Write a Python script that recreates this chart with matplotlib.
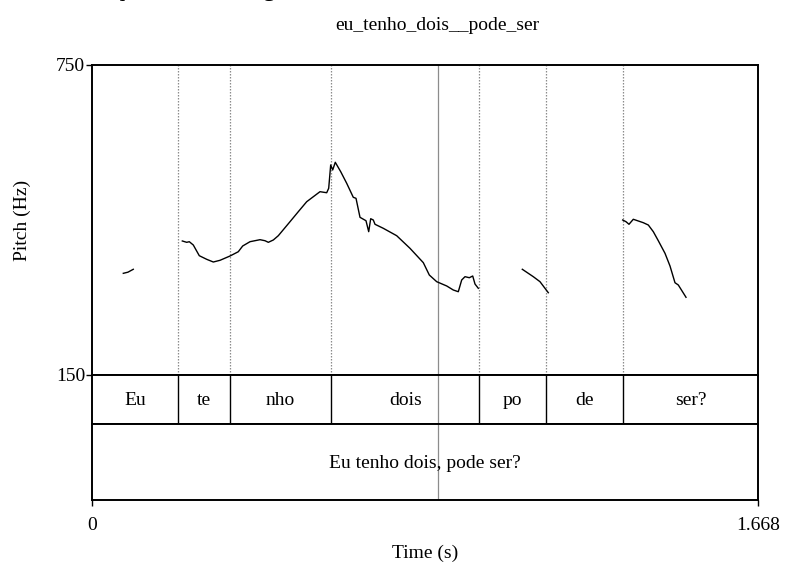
"""
Praat-style pitch contour with two annotation tiers (syllables + sentence).
"""
import numpy as np
import matplotlib
matplotlib.use("Agg")
import matplotlib.pyplot as plt

plt.rcParams["font.family"] = ["Liberation Serif", "DejaVu Serif"]

# ---------------- data ----------------
T_END = 1.668
F0_MIN, F0_MAX = 150, 750
CURSOR_T = 0.8666

syl_bounds = [0.2154, 0.3456, 0.5986, 0.9692, 1.1370, 1.3300]
syl_labels = ["Eu", "te", "nho", "dois", "po", "de", "ser?"]
syl_label_t = [0.1077, 0.2805, 0.4721, 0.7855, 1.0531, 1.2335, 1.4990]
sentence = "Eu tenho dois, pode ser?"
title = "eu_tenho_dois__pode_ser"

seg1_t = [0.0784, 0.0900, 0.1034]
seg1_f = [346.8, 349.0, 354.6]

seg2_t = [0.2262, 0.2372, 0.2437, 0.2537, 0.2687, 0.2873, 0.3038, 0.3206, 0.3456,
          0.3664, 0.3774, 0.3957, 0.4208, 0.4333, 0.4416, 0.4541, 0.4666, 0.4959,
          0.5167, 0.5377, 0.5710, 0.5878, 0.5928, 0.5978, 0.6028, 0.6093, 0.6229,
          0.6379, 0.6544, 0.6612, 0.6712, 0.6862, 0.6930, 0.6980, 0.7045, 0.7088,
          0.7296, 0.7631, 0.7964, 0.8298, 0.8448, 0.8633, 0.8884, 0.9049, 0.9174,
          0.9259, 0.9342, 0.9450, 0.9535, 0.9592, 0.9675]
seg2_f = [409.4, 406.8, 408.0, 401.6, 380.9, 373.9, 368.7, 372.0, 380.3,
          388.6, 399.7, 408.0, 411.9, 409.9, 406.8, 411.3, 419.6, 446.7,
          466.1, 485.4, 504.8, 502.8, 511.4, 556.5, 546.8, 561.7, 543.5,
          521.0, 493.9, 492.0, 455.2, 448.6, 427.4, 452.5, 450.0, 441.7,
          433.9, 419.6, 395.2, 367.4, 343.5, 330.6, 322.3, 314.5, 311.2,
          333.9, 340.3, 338.3, 341.6, 326.1, 317.8]

seg3_t = [1.0777, 1.1052, 1.1220, 1.1428]
seg3_f = [354.6, 340.3, 330.6, 309.3]

seg4_t = [1.3291, 1.3374, 1.3449, 1.3557, 1.3807, 1.3933, 1.4058, 1.4183,
          1.4351, 1.4476, 1.4601, 1.4684, 1.4877]
seg4_f = [450.0, 446.7, 441.7, 451.4, 444.8, 440.3, 427.4, 409.9,
          385.5, 361.0, 328.6, 324.2, 300.4]

# ---------------- layout (pixel based) ----------------
W, H = 811, 581
fig = plt.figure(figsize=(W / 100, H / 100), dpi=100)
fig.patch.set_facecolor("white")

def rect(x0, y_top, x1, y_bot):
    return [x0 / W, 1 - y_bot / H, (x1 - x0) / W, (y_bot - y_top) / H]

ax_p = fig.add_axes(rect(92, 65, 758, 375))
ax_s = fig.add_axes(rect(92, 375, 758, 424))
ax_u = fig.add_axes(rect(92, 424, 758, 500))

for ax in (ax_p, ax_s, ax_u):
    ax.set_xlim(0, T_END)
    for sp in ax.spines.values():
        sp.set_linewidth(1.4)
        sp.set_color("black")
    ax.set_xticks([]); ax.set_yticks([])
    ax.axvline(CURSOR_T, color="#8c8c8c", lw=0.9, zorder=1)

# pitch panel
ax_p.set_ylim(F0_MIN, F0_MAX)
for b in syl_bounds:
    ax_p.axvline(b, color="#8c8c8c", lw=0.9, ls=(0, (1.2, 1.2)), zorder=1)
for t, f in [(seg1_t, seg1_f), (seg2_t, seg2_f), (seg3_t, seg3_f), (seg4_t, seg4_f)]:
    ax_p.plot(t, f, color="black", lw=1.0, zorder=3)
ax_p.set_yticks([F0_MIN, F0_MAX])
ax_p.set_yticklabels([str(F0_MIN), str(F0_MAX)], fontsize=14)
ax_p.tick_params(axis="y", direction="out", length=4, width=1.0, pad=1)
ax_p.set_ylabel("Pitch (Hz)", fontsize=14)
ax_p.yaxis.set_label_coords(-0.092, 0.5)

# syllable tier
ax_s.set_ylim(0, 1)
for b in syl_bounds:
    ax_s.axvline(b, color="black", lw=1.0, zorder=2)
for t, lab in zip(syl_label_t, syl_labels):
    ax_s.text(t, 0.47, lab, ha="center", va="center", fontsize=14)

# utterance tier
ax_u.set_ylim(0, 1)
ax_u.text(T_END / 2, 0.48, sentence, ha="center", va="center", fontsize=14)
ax_u.set_xticks([0, T_END])
ax_u.set_xticklabels(["0", "1.668"], fontsize=14)
ax_u.tick_params(axis="x", direction="out", length=4, width=1.0, pad=8)
ax_u.set_xlabel("Time (s)", fontsize=14, labelpad=8)

fig.text(437 / W, 1 - 25 / H, title, ha="center", va="center", fontsize=14)
# leftover line of text, cut off at the top edge as in the source image
fig.text(0.0, 1 + 4 / H, "e va la a ta que a da vez regue va", ha="left",
         va="baseline", fontsize=18)

fig.savefig("out.png", dpi=100, facecolor="white")
